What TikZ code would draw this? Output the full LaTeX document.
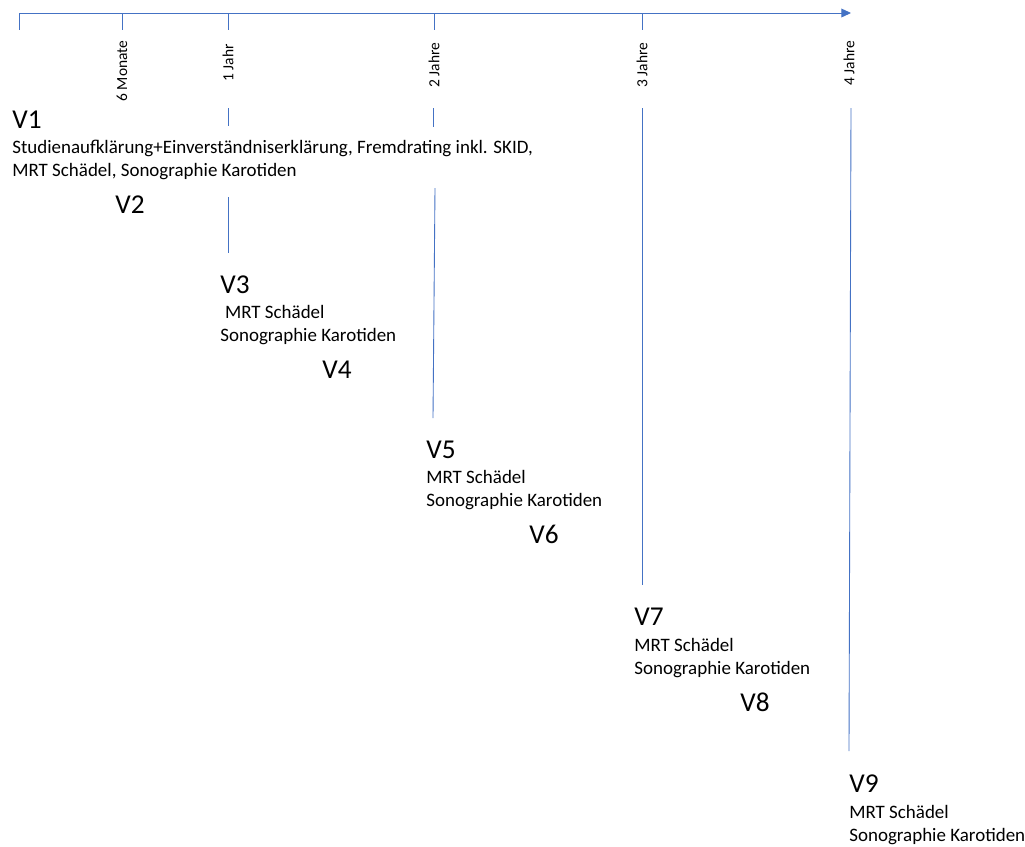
\documentclass[tikz,border=0pt]{standalone}
\usepackage{fontspec}
\setmainfont{Carlito}
\usetikzlibrary{positioning,arrows.meta}
\definecolor{lineblue}{RGB}{68,114,196}
\tikzset{
  tl/.style={draw=lineblue,line width=0.5pt},
  visit/.style={anchor=base west,inner sep=0pt,font=\fontsize{15.5}{18}\selectfont},
  exam/.style={anchor=base west,inner sep=0pt,align=left,font=\fontsize{10.8}{13}\selectfont},
  ticklbl/.style={rotate=90,inner sep=0pt,font=\fontsize{8.8}{10}\selectfont}
}

\begin{document}
\begin{tikzpicture}[x=0.02cm,y=-0.02cm,>={Triangle[length=5.5pt,width=5pt]}]
    \useasboundingbox (0,0) rectangle (1025,846);
    % time axis
    \path (19,13) coordinate (t0) (851,13) coordinate (tend);
    \draw[tl,->] (t0) -- (tend);
    \foreach \x/\n in {19/t0, 122/m6, 228/j1, 434/j2, 642/j3}{
        \path (\x,13) coordinate (\n top) (\x,30) coordinate (\n bot);
        \draw[tl] (\n top) -- (\n bot);
    }
    \foreach \x/\y/\lbl/\n in {122/71/6 Monate/m6, 228/63/1 Jahr/j1, 434/65/2 Jahre/j2, 642/65/3 Jahre/j3, 849/63/4 Jahre/j4}
        \node[ticklbl] (lbl\n) at (\x,\y) {\lbl};

    % guide lines below the axis
    \path
    (228,108) coordinate (j1a) (228,126) coordinate (j1b)
    (228,197) coordinate (j1c) (228,253) coordinate (j1d)
    (433,108) coordinate (j2a) (433,127) coordinate (j2b)
    (435,188) coordinate (j2c) (433,418) coordinate (j2d)
    (642,108) coordinate (j3a) (642,585) coordinate (j3b)
    (851,108) coordinate (j4a) (849,751) coordinate (j4b);
    \draw[tl] (j1a) -- (j1b);
    \draw[tl] (j1c) -- (j1d);
    \draw[tl] (j2a) -- (j2b);
    \draw[tl] (j2c) -- (j2d);
    \draw[tl] (j3a) -- (j3b);
    \draw[tl] (j4a) -- (j4b);

    % visits (exam texts sit on the baseline of their last line)
    \node[visit] (v1) at (12,128) {V1};
    \node[exam] (e1) at (12,176) {Studienaufklärung+Einverständniserklärung, Fremdrating inkl. SKID,\\MRT Schädel, Sonographie Karotiden};
    \node[visit] (v2) at (115,213) {V2};
    \node[visit] (v3) at (220,293) {V3};
    \node[exam] (e3) at (220,341) {\hspace*{0.25em}MRT Schädel\\Sonographie Karotiden};
    \node[visit] (v4) at (322,378) {V4};
    \node[visit] (v5) at (426,458) {V5};
    \node[exam] (e5) at (426,506) {MRT Schädel\\Sonographie Karotiden};
    \node[visit] (v6) at (529,543) {V6};
    \node[visit] (v7) at (634,625) {V7};
    \node[exam] (e7) at (634,674) {MRT Schädel\\Sonographie Karotiden};
    \node[visit] (v8) at (740,711) {V8};
    \node[visit] (v9) at (849,792) {V9};
    \node[exam] (e9) at (849,841) {MRT Schädel\\Sonographie Karotiden};
\end{tikzpicture}
\end{document}
